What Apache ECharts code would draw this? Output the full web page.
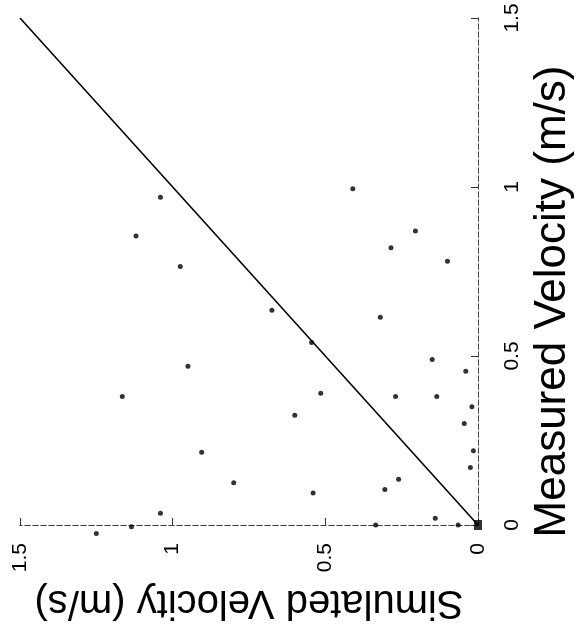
<!DOCTYPE html>
<html>
<head>
<meta charset="utf-8">
<script src="https://cdn.jsdelivr.net/npm/echarts@6/dist/echarts.min.js"></script>
<style>
html,body{margin:0;padding:0;background:#fff;}
#chart{width:583px;height:635px;}
</style>
</head>
<body>
<div id="chart"></div>
<script>
// Simulated velocity (m/s) of each measurement point
const simVals = [1.04, 1.12, 0.975, 0.41, 0.205, 0.285, 0.10, 0.675, 0.95, 1.165, 0.60, 0.905, 0.80, 1.04, 1.135, 1.25,
                 0.32, 0.545, 0.15, 0.04, 0.515, 0.27, 0.135, 0.02, 0.045, 0.025, 0.26, 0.305, 0.54, 0.14, 0.015, 0.335, 0.065];
// Measured velocity (m/s) of each measurement point
const measVals = [0.97, 0.855, 0.765, 0.995, 0.87, 0.82, 0.78, 0.635, 0.47, 0.38, 0.325, 0.215, 0.125, 0.035, -0.005, -0.025,
                  0.615, 0.54, 0.49, 0.455, 0.39, 0.38, 0.38, 0.35, 0.30, 0.17, 0.135, 0.105, 0.095, 0.02, 0.22, 0.0, 0.0];
// 1:1 reference line
const lineSim = [0, 1.5];
const lineMeas = [0, 1.5];
// origin marker
const originSim = [0];
const originMeas = [0];
// axis tick labels
const tickValues = [0, 0.5, 1, 1.5];
const tickLabels = ['0', '0.5', '1', '1.5'];

const pts = simVals.map((s, i) => [s, measVals[i]]);
const linePts = lineSim.map((s, i) => [s, lineMeas[i]]);
const originPts = originSim.map((s, i) => [s, originMeas[i]]);
const fmt = v => { const i = tickValues.indexOf(v); return i >= 0 ? tickLabels[i] : ''; };

const dashed = {show: true, lineStyle: {color: '#444', width: 1, type: [5, 3]}};
const font = 'Liberation Sans, Arial, sans-serif';

const chart = echarts.init(document.getElementById('chart'), null, {renderer: 'canvas'});
chart.setOption({
  backgroundColor: '#fff',
  animation: false,
  grid: {left: 20, right: 97, top: 18, bottom: 110, containLabel: false},
  xAxis: [
    {
      type: 'value', min: 0, max: 1.5, interval: 0.5, inverse: true, position: 'bottom',
      axisLine: dashed,
      axisTick: {show: true, inside: true, length: 7, lineStyle: {color: '#333'}},
      axisLabel: {rotate: 90, margin: 18, fontSize: 21, color: '#000', fontFamily: font, formatter: fmt},
      splitLine: {show: false},
      name: 'Simulated Velocity (m/s)', nameLocation: 'middle', nameRotate: 180, nameGap: 57,
      nameTextStyle: {fontSize: 40, color: '#000', fontFamily: font}
    },
    {
      type: 'value', min: 0, max: 1.5, interval: 0.5, inverse: true, position: 'top',
      axisLine: dashed, axisTick: {show: false}, axisLabel: {show: false}, splitLine: {show: false}
    }
  ],
  yAxis: [
    {
      type: 'value', min: 0, max: 1.5, interval: 0.5, position: 'right',
      axisLine: dashed,
      axisTick: {show: true, inside: true, length: 7, lineStyle: {color: '#333'}},
      axisLabel: {rotate: 90, margin: 24, fontSize: 21, color: '#000', fontFamily: font, formatter: fmt},
      splitLine: {show: false},
      name: 'Measured Velocity (m/s)', nameLocation: 'middle', nameRotate: 90, nameGap: 53,
      nameTextStyle: {fontSize: 44, color: '#000', fontFamily: font, padding: [0, 60, 0, 0]}
    },
    {
      type: 'value', min: 0, max: 1.5, interval: 0.5, position: 'left',
      axisLine: dashed, axisTick: {show: false}, axisLabel: {show: false}, splitLine: {show: false}
    }
  ],
  series: [
    {
      type: 'line', data: linePts, xAxisIndex: 0, yAxisIndex: 0, symbol: 'none',
      lineStyle: {color: '#000', width: 1.6}, silent: true
    },
    {
      type: 'scatter', data: pts, xAxisIndex: 0, yAxisIndex: 0, symbol: 'circle', symbolSize: 5,
      itemStyle: {color: '#000'}, clip: false
    },
    {
      type: 'scatter', data: originPts, xAxisIndex: 0, yAxisIndex: 0, symbol: 'rect', symbolSize: [8, 10],
      itemStyle: {color: '#000'}, clip: false
    }
  ]
});
</script>
</body>
</html>
